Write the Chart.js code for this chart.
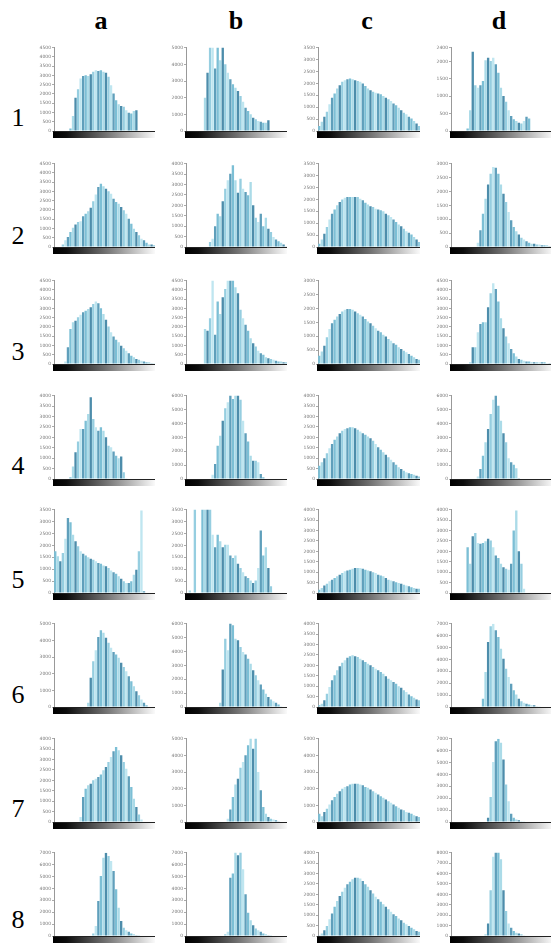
<!DOCTYPE html>
<html><head><meta charset="utf-8">
<script src="https://cdn.jsdelivr.net/npm/chart.js@4"></script>
<style>
html,body{margin:0;padding:0;background:#fff;width:551px;height:945px;overflow:hidden;position:relative;}
.hd{position:absolute;font-family:"Liberation Serif",serif;font-weight:bold;font-size:26px;line-height:26px;color:#000;transform:translateX(-50%);}
.rl{position:absolute;font-family:"Liberation Serif",serif;font-size:26px;line-height:26px;color:#000;transform:translateX(-50%);}
canvas{position:absolute;}
</style>
</head><body>
<script>
// ---- categories / labels ----
const colLabels = ['a','b','c','d'];
const rowLabels = ['1','2','3','4','5','6','7','8'];
// grey-level bin centres (0..255, 40 bins)
const binCenters = [3.2,9.6,16,22.4,28.8,35.2,41.6,48,54.4,60.8,67.2,73.6,80,86.4,92.8,99.2,105.6,112,118.4,124.8,131.2,137.6,144,150.4,156.8,163.2,169.6,176,182.4,188.8,195.2,201.6,208,214.4,220.8,227.2,233.6,240,246.4,252.8];
const xTickLabels = [0,50,100,150,200,250];

// ---- histogram values, % of each panel's y-axis top ----
const h1a = [0,0,0,0,0,0,3,18,40,50,63,66,67,66,68,71,73,72,73,71,70,65,55,45,37,32,30,29,25,22,21,24,25,0,0,0,0,0,0,0];
const h1b = [0,0,0,0,0,0,0,40,70,104,104,75,104,85,104,80,70,62,56,52,48,42,35,28,24,20,16,14,12,11,10,10,13,0,0,0,0,0,0,0];
const h1c = [6,11,17,23,32,40,45,51,55,59,61,62,63,62,61,60,59,57,54,51,49,47,46,45,44,42,40,38,36,33,31,28,25,22,20,17,15,12,9,6];
const h1d = [0,0,0,0,0,0,3,25,95,55,52,55,60,85,88,84,88,80,70,52,42,35,25,18,14,12,10,9,12,17,15,0,0,0,0,0,0,0,0,0];

const h2a = [0,0,0,3,8,12,18,23,27,30,31,37,40,43,47,55,63,72,76,73,70,67,64,58,54,52,48,44,40,34,28,22,18,14,10,8,5,3,3,2];
const h2b = [0,0,0,0,0,0,0,0,0,6,10,25,40,37,55,70,80,88,98,80,65,82,70,66,62,78,50,35,30,40,25,35,22,18,12,9,7,5,3,1];
const h2c = [4,9,16,24,33,40,45,50,54,57,59,60,60,60,60,60,58,56,53,51,49,48,46,45,44,43,40,38,36,33,30,27,25,22,19,17,15,12,9,6];
const h2d = [0,0,0,0,0,0,0,0,0,0,5,20,40,58,75,88,96,95,88,75,64,54,42,32,24,19,15,11,9,7,5,4,4,3,3,2,2,2,1,1];

const h3a = [0,0,0,0,3,20,42,50,52,56,59,62,64,66,68,72,75,73,67,60,53,45,38,33,29,26,22,19,16,13,10,8,6,5,4,3,2,2,1,1];
const h3b = [0,0,0,0,0,0,0,42,40,55,104,35,75,60,80,90,104,104,104,92,85,65,55,47,40,31,25,21,16,13,11,8,7,6,5,4,3,3,2,2];
const h3c = [10,15,22,32,42,49,53,57,60,63,65,66,66,65,63,61,59,57,54,51,49,46,43,40,38,35,33,30,28,25,23,20,18,16,14,12,10,8,6,5];
const h3d = [0,0,0,0,0,0,0,2,20,20,38,48,50,50,68,85,97,90,75,55,43,33,25,18,13,9,6,5,4,3,3,2,2,2,2,2,2,1,1,1];

const h4a = [0,0,0,0,0,0,2,15,32,45,60,60,70,78,98,72,62,58,62,58,50,40,38,33,28,25,27,8,1,0,0,0,0,0,0,0,0,0,0,0];
const h4b = [0,0,0,0,0,0,0,0,0,0,5,18,40,52,70,85,92,104,96,104,104,95,70,55,45,28,22,22,20,6,2,0,0,0,0,0,0,0,0,0];
const h4c = [16,20,25,31,37,42,47,51,55,58,60,61,62,62,61,59,57,55,53,51,49,46,42,38,35,32,29,26,23,20,17,14,12,10,8,7,6,5,4,3];
const h4d = [0,0,0,0,0,0,0,0,0,0,3,12,28,44,60,78,95,104,88,70,55,44,25,20,17,13,1,0,0,0,0,0,0,0,0,0,0,0,0,0];

const h5a = [50,44,38,48,65,90,85,70,62,56,50,47,45,43,41,40,38,36,35,33,32,30,27,25,23,20,17,14,12,12,14,22,28,50,99,2,0,0,0,0];
const h5b = [0,3,0,104,0,0,104,104,104,104,70,55,70,62,55,58,58,45,42,45,35,30,25,20,18,15,12,15,30,75,45,55,30,8,0,0,0,0,0,0];
const h5c = [4,6,9,11,14,16,18,20,22,24,26,27,28,29,30,30,30,29,28,27,26,25,24,22,21,20,18,16,15,14,13,12,11,10,9,8,7,6,5,5];
const h5d = [0,0,0,0,0,0,55,35,68,72,60,59,60,62,65,63,55,45,42,35,31,29,28,35,75,99,50,35,5,0,0,0,0,0,0,0,0,0,0,0];

const h6a = [0,0,0,0,0,0,0,0,0,0,0,0,0,5,35,55,68,84,92,89,83,77,71,66,63,59,53,48,43,37,31,25,19,14,9,5,2,0,0,0];
const h6b = [0,0,0,0,0,0,0,0,0,0,0,0,0,5,45,82,68,104,98,82,80,72,66,63,58,52,44,38,32,27,21,16,12,9,7,5,3,1,0,0];
const h6c = [2,4,8,16,24,32,38,44,49,53,56,59,61,62,61,60,58,56,54,52,50,48,46,44,42,40,37,34,32,30,28,25,23,20,18,15,13,11,9,8];
const h6d = [0,0,0,0,0,0,0,0,0,0,0,0,10,42,78,97,100,92,84,70,58,46,36,28,20,15,10,7,5,4,3,2,2,1,1,0,0,0,0,0];

const h7a = [0,0,0,0,0,0,0,0,0,0,6,30,40,44,46,50,52,54,57,62,66,72,78,85,90,86,80,72,64,55,42,28,18,9,3,0,0,0,0,0];
const h7b = [0,0,0,0,0,0,0,0,0,0,0,0,0,0,0,0,4,15,30,45,52,65,72,80,92,104,88,104,60,38,18,10,6,4,3,2,1,0,0,0];
const h7c = [10,7,12,16,21,26,30,34,37,40,42,43,45,46,46,46,45,44,42,41,39,37,35,33,31,29,27,25,23,21,19,17,15,14,12,11,10,8,7,6];
const h7d = [0,0,0,0,0,0,0,0,0,0,0,0,0,0,5,30,72,97,100,95,75,45,25,10,5,3,2,1,1,0,0,0,0,0,0,0,0,0,0,0];

const h8a = [0,0,0,0,0,0,0,0,0,0,0,0,0,0,0,3,12,42,72,94,100,96,90,78,56,34,18,10,7,5,3,2,1,1,0,0,0,0,0,0];
const h8b = [0,0,0,0,0,0,0,0,0,0,0,0,0,0,0,2,5,70,75,104,97,104,80,50,28,19,13,9,7,5,3,2,1,1,0,0,0,0,0,0];
const h8c = [1,3,7,12,20,27,35,42,48,53,58,62,65,68,70,70,69,66,62,59,55,51,47,44,41,38,35,32,29,26,24,21,19,16,14,12,10,8,6,5];
const h8d = [0,0,0,0,0,0,0,0,0,0,0,0,0,2,15,55,95,104,104,92,55,30,15,10,6,4,3,2,1,0,0,0,0,0,0,0,0,0,0,0];

// y-axis top (pixel counts) per panel
const yTopRow1 = [4500,5000,3500,2400];
const yTopRow2 = [4500,4000,3500,3000];
const yTopRow3 = [4500,4500,3000,4500];
const yTopRow4 = [4000,6000,4000,6000];
const yTopRow5 = [3500,3500,4000,4000];
const yTopRow6 = [5000,6000,4000,7000];
const yTopRow7 = [4000,5000,5000,7000];
const yTopRow8 = [7000,7000,4000,8000];

const panels = [
  [h1a,h1b,h1c,h1d],[h2a,h2b,h2c,h2d],[h3a,h3b,h3c,h3d],[h4a,h4b,h4c,h4d],
  [h5a,h5b,h5c,h5d],[h6a,h6b,h6c,h6d],[h7a,h7b,h7c,h7d],[h8a,h8b,h8c,h8d]
];
const yTops = [yTopRow1,yTopRow2,yTopRow3,yTopRow4,yTopRow5,yTopRow6,yTopRow7,yTopRow8];

// ---- layout ----
const colPlotLeft = [54,186,318,451];
const colPlotW = [101,101,102,102];
const colCenter = [101,236,367,499];
const rowBase = [131,247,364,479,593,707,822,936];
const rowLabelY = [118,236,352,466,580,695,809,920];
const plotH = 85, axW = 20, axH = 16, padT = 2, padR = 4;

const palette = ['#7cbfd5','#abdbe8','#4d8dab','#96cee0','#bfe6f0','#5f9fbb'];

const gradPlugin = {
  id:'grad',
  afterDraw(c){
    const a = c.chartArea, ctx = c.ctx;
    const g = ctx.createLinearGradient(a.left,0,a.right,0);
    g.addColorStop(0,'#000'); g.addColorStop(0.12,'#0c0c0c');
    g.addColorStop(0.5,'#6e6e6e'); g.addColorStop(0.85,'#d0d0d0'); g.addColorStop(1,'#fafafa');
    ctx.save();
    ctx.fillStyle = g;
    ctx.fillRect(a.left-1, a.bottom, a.right-a.left+1, 7);
    ctx.strokeStyle = '#222'; ctx.lineWidth = 1;
    ctx.beginPath(); ctx.moveTo(a.left-1, a.bottom+0.5); ctx.lineTo(a.right, a.bottom+0.5); ctx.stroke();
    ctx.restore();
  }
};

colLabels.forEach((t,j)=>{
  const d = document.createElement('div'); d.className='hd'; d.textContent=t;
  d.style.left = colCenter[j]+'px'; d.style.top = '8px'; document.body.appendChild(d);
});
rowLabels.forEach((t,i)=>{
  const d = document.createElement('div'); d.className='rl'; d.textContent=t;
  d.style.left = '18px'; d.style.top = (rowLabelY[i]-13)+'px'; document.body.appendChild(d);
});

panels.forEach((row,i)=>{
  row.forEach((vals,j)=>{
    const cv = document.createElement('canvas');
    const W = axW + colPlotW[j] + padR, H = padT + plotH + axH;
    cv.width = W; cv.height = H;
    cv.style.left = (colPlotLeft[j]-axW)+'px';
    cv.style.top = (rowBase[i]-plotH-padT)+'px';
    cv.style.width = W+'px'; cv.style.height = H+'px';
    document.body.appendChild(cv);
    const top = yTops[i][j];
    const step = top > 4500 ? 1000 : 500;
    new Chart(cv,{
      type:'bar',
      data:{datasets:[{
        data: vals.map((v,k)=>({x:binCenters[k], y:v})),
        backgroundColor: ctx => palette[ctx.dataIndex % palette.length],
        borderWidth:0, barPercentage:1, categoryPercentage:0.92, clip:0
      }]},
      options:{
        responsive:false, animation:false, devicePixelRatio:1,
        layout:{padding:{top:padT,right:padR,left:0,bottom:0}},
        plugins:{legend:{display:false},tooltip:{enabled:false}},
        scales:{
          x:{type:'linear',min:0,max:255,offset:false,
             afterFit(s){s.height=axH; s.paddingLeft=0; s.paddingRight=0;},
             border:{display:false},grid:{display:false,offset:false},
             afterBuildTicks(s){ s.ticks = xTickLabels.map(v=>({value:v})); },
             ticks:{padding:8,font:{size:4.5,family:'DejaVu Sans'},color:'#777',maxRotation:0,autoSkip:false}},
          y:{min:0,max:100,
             afterFit(s){s.width=axW;},
             border:{color:'#999',width:1},
             grid:{drawOnChartArea:false,tickLength:2,color:'#aaa'},
             ticks:{stepSize: step/top*100, padding:1, font:{size:4.5,family:'DejaVu Sans'},color:'#777',
                    callback:v=>Math.round(v*top/100)}}
        }
      },
      plugins:[gradPlugin]
    });
  });
});
</script>
</body></html>
